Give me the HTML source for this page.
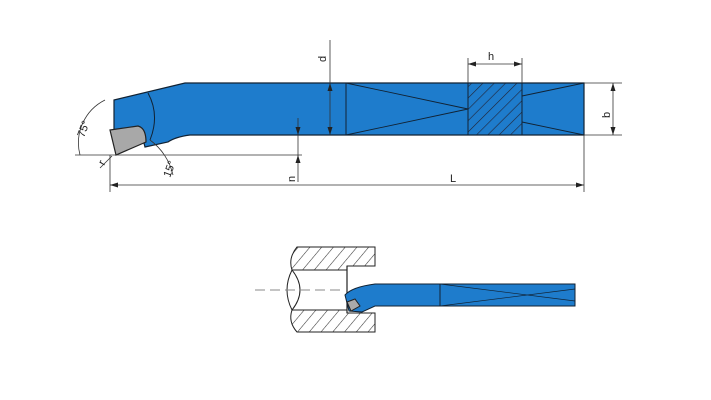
<!DOCTYPE html><html><head><style>body{margin:0;background:#fff}svg{display:block}text{font-family:"Liberation Sans",sans-serif;font-size:11px;fill:#222}</style></head><body>
<svg width="711" height="400" viewBox="0 0 711 400">
<defs>
<pattern id="h1" width="8" height="8" patternUnits="userSpaceOnUse" patternTransform="rotate(45)"><line x1="0" y1="0" x2="0" y2="8" stroke="#223" stroke-width="1.2"/></pattern>
<pattern id="h2" width="9" height="9" patternUnits="userSpaceOnUse" patternTransform="rotate(40)"><line x1="0" y1="0" x2="0" y2="9" stroke="#333" stroke-width="1.1"/></pattern>
</defs>
<!-- top tool -->
<path d="M114 100 L185 83 L584 83 L584 135 L190 135 Q175 137 168 142 L145 147 L140 128 L114 130 Z" fill="#1e7ccc" stroke="#123" stroke-width="1.2"/>
<path d="M148 93 Q160 115 150 140" fill="none" stroke="#123" stroke-width="1"/>
<line x1="346" y1="83" x2="346" y2="135" stroke="#123"/>
<path d="M346 83 L468 109 L346 135" fill="none" stroke="#123" stroke-width="0.9"/>
<rect x="468" y="83" width="54" height="52" fill="url(#h1)" stroke="#123"/>
<path d="M584 83 L522 96 M584 135 L522 122" fill="none" stroke="#123" stroke-width="0.9"/>
<path d="M110 130 L138 126 Q146 128 146 142 L116 155 Z" fill="#a8a8a8" stroke="#222" stroke-width="1.2"/>
<!-- dims -->
<g stroke="#333" stroke-width="0.8" fill="none">
<line x1="75" y1="155" x2="302" y2="155"/>
<line x1="110" y1="155" x2="110" y2="192"/>
<line x1="110" y1="185" x2="584" y2="185"/>
<line x1="584" y1="135" x2="584" y2="192"/>
<line x1="330" y1="40" x2="330" y2="135"/>
<line x1="298" y1="118" x2="298" y2="182"/>
<line x1="584" y1="83" x2="622" y2="83"/><line x1="584" y1="135" x2="622" y2="135"/>
<line x1="613" y1="83" x2="613" y2="135"/>
<line x1="468" y1="58" x2="468" y2="83"/><line x1="522" y1="58" x2="522" y2="83"/>
<line x1="468" y1="64" x2="522" y2="64"/>
<path d="M105 100 A48 48 0 0 0 80 155"/>
<path d="M150 140 A60 60 0 0 1 173 175"/>
<line x1="100" y1="168" x2="112" y2="156"/>
</g>
<g fill="#222">
<path d="M110 185 l8 -2.5 v5z M584 185 l-8 -2.5 v5z M613 83 l-2.5 8 h5z M613 135 l-2.5 -8 h5z M468 64 l8 -2.5 v5z M522 64 l-8 -2.5 v5z M330 83 l-2.5 8 h5z M330 135 l-2.5 -8 h5z M298 135 l-2.5 -8 h5z M298 155 l-2.5 8 h5z"/>
</g>
<text x="450" y="182">L</text>
<text x="488" y="60">h</text>
<text transform="translate(610,118) rotate(-90)">b</text>
<text transform="translate(326,62) rotate(-90)">d</text>
<text transform="translate(295,182) rotate(-90)">n</text>
<text transform="translate(84,138) rotate(-70)">75°</text>
<text transform="translate(170,178) rotate(-70)">15°</text>
<text transform="translate(104,166) rotate(-60)">r</text>
<!-- bottom -->
<path d="M297 247 L375 247 L375 266 L347 266 L347 270 L292 270 Q288 258 297 247 Z" fill="url(#h2)" stroke="#222" stroke-width="1"/>
<path d="M292 310 L347 310 L347 313 L375 313 L375 332 L297 332 Q288 322 292 310 Z" fill="url(#h2)" stroke="#222" stroke-width="1"/>
<path d="M347 266 L347 313" stroke="#222" stroke-width="1.2"/>
<path d="M292 270 Q308 290 292 310 M292 270 Q282 290 292 310" fill="none" stroke="#222" stroke-width="1"/>
<line x1="255" y1="290" x2="345" y2="290" stroke="#888" stroke-dasharray="10 5"/>
<path d="M345 295 Q352 287 375 284 L575 284 L575 306 L375 306 L362 312 L349 311 Z" fill="#1e7ccc" stroke="#123"/>
<line x1="440" y1="284" x2="440" y2="306" stroke="#123"/>
<path d="M440 284 L575 301 M440 306 L575 289" stroke="#123" stroke-width="0.7"/>
<path d="M347 302 L355 299 L360 306 L351 311 Z" fill="#aaa" stroke="#222"/>
</svg></body></html>
